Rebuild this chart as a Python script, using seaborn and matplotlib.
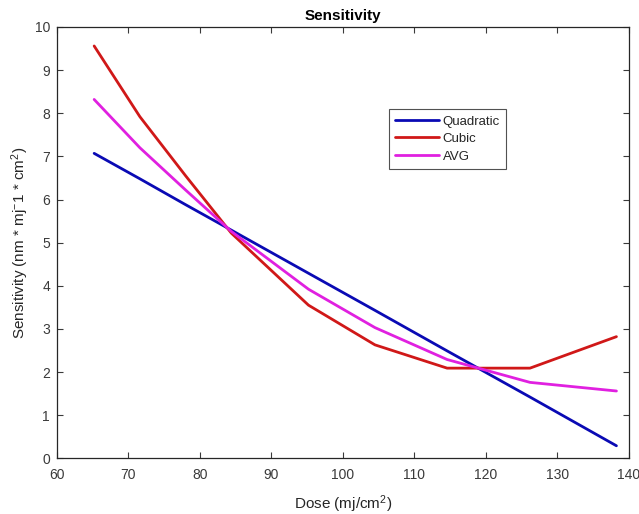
import matplotlib
matplotlib.use("Agg")
import matplotlib.pyplot as plt
import seaborn as sns
import pandas as pd

dose = [65.2, 71.6, 78.0, 84.4, 95.2, 104.5, 114.6, 126.2, 138.3]
quadratic = [7.07, 6.48, 5.88, 5.29, 4.29, 3.43, 2.49, 1.42, 0.29]
cubic = [9.56, 7.92, 6.55, 5.22, 3.55, 2.63, 2.09, 2.09, 2.82]
avg = [8.32, 7.20, 6.22, 5.26, 3.92, 3.03, 2.29, 1.76, 1.56]
series_names = ["Quadratic", "Cubic", "AVG"]
colors = ["#0a0ab4", "#d01818", "#e020e0"]
x_ticks = [60, 70, 80, 90, 100, 110, 120, 130, 140]
y_ticks = list(range(0, 11))

sns.set_style("ticks")
plt.rcParams["font.family"] = ["Liberation Sans", "DejaVu Sans"]
plt.rcParams["mathtext.fontset"] = "custom"
plt.rcParams["mathtext.rm"] = "Liberation Sans"
plt.rcParams["mathtext.it"] = "Liberation Sans"

df = pd.concat([
    pd.DataFrame({"Dose": dose, "Sensitivity": vals, "Series": name})
    for name, vals in zip(series_names, [quadratic, cubic, avg])
], ignore_index=True)

fig = plt.figure(figsize=(6.39, 5.14), dpi=100)
ax = fig.add_axes([0.0892, 0.1084, 0.8945, 0.8391])

sns.lineplot(data=df, x="Dose", y="Sensitivity", hue="Series",
             hue_order=series_names, palette=dict(zip(series_names, colors)),
             linewidth=2.0, ax=ax, sort=False, estimator=None)

ax.set_xlim(60, 140)
ax.set_ylim(0, 10)
ax.set_xticks(x_ticks)
ax.set_yticks(y_ticks)
ax.tick_params(direction="in", top=True, right=True, labelsize=10,
               colors="#3a3a3a", length=4, width=0.8)
ax.tick_params(axis="x", pad=7)
ax.tick_params(axis="y", pad=5)
for s in ax.spines.values():
    s.set_visible(True)
    s.set_color("#262626")
    s.set_linewidth(0.9)

ax.set_xlabel("Dose (mj/cm$^{2}$)", fontsize=11, color="#262626", labelpad=8)
ax.set_ylabel("Sensitivity (nm * mj$^{-}$1 * cm$^{2}$)", fontsize=11,
              color="#262626", labelpad=3)
ax.set_title("Sensitivity", fontsize=11, fontweight="bold", color="black", pad=5)

leg = ax.legend(loc="upper left", bbox_to_anchor=(0.581, 0.809), frameon=True,
                fontsize=9.5, handlelength=3.3, borderpad=0.45, labelspacing=0.4,
                handletextpad=0.3, fancybox=False, borderaxespad=0)
leg.get_frame().set_edgecolor("#262626")
leg.get_frame().set_linewidth(0.8)
for line in leg.get_lines():
    line.set_linewidth(2.0)

fig.savefig("out.png", dpi=100)
